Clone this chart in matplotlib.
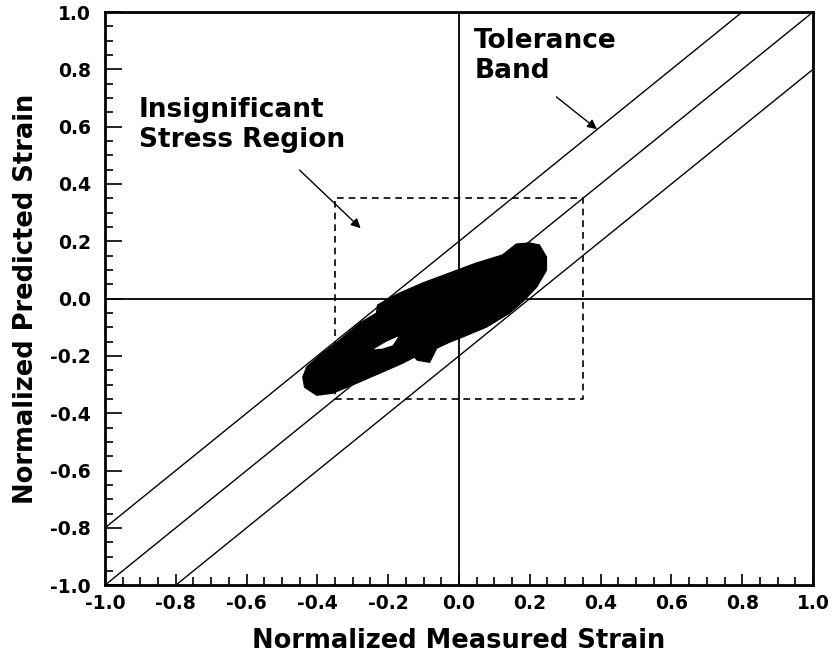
import matplotlib
matplotlib.use("Agg")
import matplotlib.pyplot as plt
import numpy as np
from matplotlib.patches import Polygon

plt.rcParams['font.family'] = ['DejaVu Sans']
plt.rcParams['font.weight'] = 'bold'
plt.rcParams['axes.unicode_minus'] = False

# Data
tick_values = [-1.0, -0.8, -0.6, -0.4, -0.2, 0.0, 0.2, 0.4, 0.6, 0.8, 1.0]
tolerance = 0.2
region_half = 0.35
# outline of the dense cloud of measured/predicted points (x, y)
blob_x = [-0.436, -0.402, -0.357, -0.289, -0.205, -0.159, -0.126, -0.117, -0.083,
          -0.063, -0.027, 0.010, 0.078, 0.142, 0.179, 0.219, 0.247, 0.247, 0.227,
          0.199, 0.162, 0.123, 0.049, -0.027, -0.103, -0.168, -0.196, -0.230,
          -0.233, -0.281, -0.337, -0.385, -0.430, -0.441]
blob_y = [-0.309, -0.337, -0.330, -0.295, -0.250, -0.225, -0.204, -0.215, -0.222,
          -0.173, -0.152, -0.134, -0.099, -0.051, -0.012, 0.040, 0.099, 0.145, 0.187,
          0.194, 0.190, 0.152, 0.124, 0.089, 0.054, 0.019, 0.002, -0.023,
          -0.051, -0.086, -0.145, -0.190, -0.239, -0.274]
hole_x = [-0.238, -0.205, -0.173, -0.188, -0.216]
hole_y = [-0.176, -0.152, -0.134, -0.162, -0.173]

fig = plt.figure(figsize=(8.33, 6.68), dpi=100)
ax = fig.add_axes([0.126, 0.124, 0.850, 0.858])
ax.set_xlim(-1, 1)
ax.set_ylim(-1, 1)

line_x = np.array([-1.0, 1.0])
for off in (-tolerance, 0.0, tolerance):
    ax.plot(line_x, line_x + off, color='black', lw=1.0, zorder=2)
ax.axhline(0, color='black', lw=1.3, zorder=2)
ax.axvline(0, color='black', lw=1.3, zorder=2)

r = region_half
ax.plot([-r, r, r, -r, -r], [-r, -r, r, r, -r], color='black', lw=1.2,
        ls=(0, (4, 3)), zorder=2)

ax.add_patch(Polygon(np.column_stack([blob_x, blob_y]), closed=True,
                     facecolor='black', edgecolor='black', lw=1, zorder=3))
ax.add_patch(Polygon(np.column_stack([hole_x, hole_y]), closed=True,
                     facecolor='white', edgecolor='white', lw=0.5, zorder=4))

ax.annotate('', xy=(0.396, 0.585), xytext=(0.269, 0.710),
            arrowprops=dict(arrowstyle='-|>', color='black', lw=1.0,
                            mutation_scale=14))
ax.text(0.043, 0.945, 'Tolerance\nBand', fontsize=19, fontweight='bold',
        ha='left', va='top', linespacing=1.2)

ax.annotate('', xy=(-0.272, 0.239), xytext=(-0.456, 0.455),
            arrowprops=dict(arrowstyle='-|>', color='black', lw=1.0,
                            mutation_scale=14))
ax.text(-0.905, 0.705, 'Insignificant\nStress Region', fontsize=19,
        fontweight='bold', ha='left', va='top', linespacing=1.2)

ax.set_xticks(tick_values)
ax.set_yticks(tick_values)
ax.set_xticklabels([f'{v:.1f}' for v in tick_values])
ax.set_yticklabels([f'{v:.1f}' for v in tick_values])
ax.set_xticks(np.arange(-1.0, 1.0001, 0.05), minor=True)
ax.set_yticks(np.arange(-1.0, 1.0001, 0.05), minor=True)
ax.tick_params(axis='both', which='both', direction='in', top=False, right=False,
               width=1.2, labelsize=13.5)
ax.tick_params(axis='x', which='major', length=8, pad=6)
ax.tick_params(axis='x', which='minor', length=6)
ax.tick_params(axis='y', which='major', length=12, pad=10)
ax.tick_params(axis='y', which='minor', length=6)
for lab in ax.get_xticklabels() + ax.get_yticklabels():
    lab.set_fontweight('bold')
for s in ax.spines.values():
    s.set_linewidth(2)

ax.set_xlabel('Normalized Measured Strain', fontsize=18.5, fontweight='bold',
              labelpad=11)
ax.set_ylabel('Normalized Predicted Strain', fontsize=18.5, fontweight='bold',
              labelpad=8)

fig.savefig('out.png', dpi=100)
